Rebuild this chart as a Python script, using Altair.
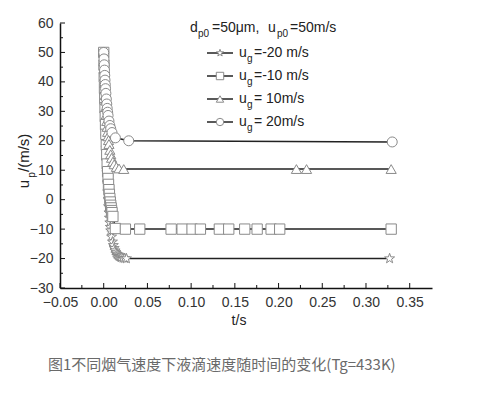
import altair as alt
import pandas as pd

# ---------------- data ----------------
series_names = ["ug=-20", "ug=-10", "ug=10", "ug=20"]

t_m20 = [0, 0.0003, 0.0006, 0.0009, 0.0012, 0.0015, 0.0018, 0.0021, 0.0025, 0.003,
         0.0035, 0.004, 0.0045, 0.005, 0.0055, 0.006, 0.0065, 0.007, 0.0075, 0.008,
         0.009, 0.010, 0.011, 0.012, 0.013, 0.014, 0.015, 0.016, 0.017, 0.018,
         0.019, 0.020, 0.022, 0.024, 0.026, 0.327]
u_m20 = [50, 44.9, 40.3, 35.9, 31.9, 28.1, 24.6, 21.4, 17.5, 13.0,
         9.2, 5.8, 2.7, 0.1, -2.3, -4.4, -6.2, -7.8, -9.3, -10.5,
         -12.6, -14.3, -15.5, -16.5, -17.3, -17.9, -18.4, -18.7, -19.0, -19.2,
         -19.4, -19.6, -19.8, -19.9, -20.0, -20.0]

t_m10 = [0, 0.0003, 0.0006, 0.0009, 0.0012, 0.0015, 0.0018, 0.0021, 0.0025, 0.003,
         0.0035, 0.004, 0.0045, 0.005, 0.0055, 0.006, 0.0065, 0.007, 0.0075, 0.008,
         0.0085, 0.009, 0.0095, 0.0105, 0.0134, 0.0248, 0.0412, 0.0771, 0.0897,
         0.1011, 0.1106, 0.1323, 0.1430, 0.1613, 0.1755, 0.1915, 0.2013, 0.3288]
u_m10 = [50, 45.7, 41.6, 37.8, 34.4, 31.2, 28.2, 25.5, 22.2, 18.5,
         15.3, 12.1, 9.5, 7.2, 5.2, 3.4, 1.8, 0.4, -0.8, -1.9,
         -2.8, -3.7, -4.4, -5.7, -9.8, -10.0, -10.0, -10.0, -10.0,
         -10.0, -10.0, -10.0, -10.0, -10.0, -10.0, -10.0, -10.0, -10.0]

t_p10 = [0, 0.0003, 0.0006, 0.0009, 0.0012, 0.0015, 0.0018, 0.0021, 0.0025, 0.003,
         0.0035, 0.004, 0.0045, 0.005, 0.0055, 0.006, 0.007, 0.008, 0.009, 0.0105,
         0.012, 0.0145, 0.0175, 0.0229, 0.2204, 0.232, 0.3288]
u_p10 = [50, 47.1, 44.4, 41.9, 39.6, 37.5, 35.5, 33.7, 31.5, 28.9,
         26.7, 24.7, 23.0, 21.5, 20.2, 18.9, 16.9, 15.4, 14.2, 12.9,
         12.0, 11.1, 10.6, 10.4, 10.4, 10.4, 10.4]

t_p20 = [0, 0.0003, 0.0006, 0.0009, 0.0012, 0.0015, 0.0018, 0.0021, 0.0025, 0.003,
         0.0035, 0.004, 0.0045, 0.005, 0.006, 0.007, 0.008, 0.0095, 0.0134, 0.0286, 0.33]
u_p20 = [50, 47.8, 45.8, 44.0, 42.2, 40.6, 39.1, 37.7, 36.1, 34.2,
         32.5, 31.0, 29.7, 28.6, 26.7, 25.2, 24.1, 22.8, 21.0, 20.0, 19.6]

legend_values = ["=-20 m/s", "=-10 m/s", "= 10m/s", "= 20m/s"]

x_major = [-0.05, 0.0, 0.05, 0.10, 0.15, 0.20, 0.25, 0.30, 0.35]
x_minor = [-0.025, 0.025, 0.075, 0.125, 0.175, 0.225, 0.275, 0.325]
y_major = [-30, -20, -10, 0, 10, 20, 30, 40, 50, 60]
y_minor = [-25, -15, -5, 5, 15, 25, 35, 45, 55]

caption = "图1不同烟气速度下液滴速度随时间的变化(Tg=433K)"

# ---------------- build tables ----------------
rows = []
for name, ts, us in [(series_names[0], t_m20, u_m20), (series_names[1], t_m10, u_m10),
                     (series_names[2], t_p10, u_p10), (series_names[3], t_p20, u_p20)]:
    for i, (t, u) in enumerate(zip(ts, us)):
        rows.append({"series": name, "t": t, "u": u, "i": i})
df = pd.DataFrame(rows)

STAR = ("M0,-1L0.235,-0.324L0.951,-0.309L0.380,0.124L0.588,0.809L0,0.4"
        "L-0.588,0.809L-0.380,0.124L-0.951,-0.309L-0.235,-0.324Z")
shapes = [STAR, "square", "triangle-up", "circle"]
sizes = [110, 100, 120, 100]

W, H = 372, 265
FONT = "Liberation Sans"
xs = alt.Scale(domain=[-0.05, 0.3755], nice=False, zero=False)
ys = alt.Scale(domain=[-30, 60], nice=False, zero=False)

xaxis = alt.Axis(values=x_major, format=".2f", title=None, grid=False, ticks=False,
                 domainColor="#111111", domainWidth=1.5, labelFont=FONT, labelFontSize=14,
                 labelColor="#333333", labelPadding=7, labelFlush=False)
yaxis = alt.Axis(values=y_major, title=None, grid=False, ticks=False,
                 domainColor="#111111", domainWidth=1.5, labelFont=FONT, labelFontSize=14,
                 labelColor="#333333", labelPadding=7, labelFlush=False)

base = alt.Chart(df)

lines = base.mark_line(color="#222222", strokeWidth=1.5).encode(
    x=alt.X("t:Q", scale=xs, axis=xaxis),
    y=alt.Y("u:Q", scale=ys, axis=yaxis),
    detail="series:N",
    order="i:Q",
)

points = base.mark_point(filled=False, fill="white", fillOpacity=1,
                         stroke="#8a8a8a", strokeWidth=1).encode(
    x=alt.X("t:Q", scale=xs, axis=xaxis),
    y=alt.Y("u:Q", scale=ys, axis=yaxis),
    shape=alt.Shape("series:N", scale=alt.Scale(domain=series_names, range=shapes), legend=None),
    size=alt.Size("series:N", scale=alt.Scale(domain=series_names, range=sizes), legend=None),
)

# inward ticks
def xticks(vals, length):
    return alt.Chart(pd.DataFrame({"t": vals})).mark_rule(color="#111111", strokeWidth=1).encode(
        x=alt.X("t:Q", scale=xs, axis=xaxis), y=alt.value(H), y2=alt.value(H - length))

def yticks(vals, length):
    return alt.Chart(pd.DataFrame({"u": vals})).mark_rule(color="#111111", strokeWidth=1).encode(
        y=alt.Y("u:Q", scale=ys, axis=yaxis), x=alt.value(0), x2=alt.value(length))

ticks = [xticks(x_major, 5), xticks(x_minor, 3), yticks(y_major, 5), yticks(y_minor, 3)]

one = pd.DataFrame({"a": [0]})

def txt(s, x, y, size=14, color="#222222", align="left", angle=0, font=FONT):
    kw = dict(align=align, baseline="middle", fontSize=size, color=color, font=font, text=s)
    if angle:
        kw["angle"] = angle
    return alt.Chart(one).mark_text(**kw).encode(x=alt.value(x), y=alt.value(y))

OX, OY = 60, 23  # plot origin in page pixels
texts = []
# legend title
texts += [
    txt("d", 190 - OX, 28 - OY),
    txt("p0", 198 - OX, 34 - OY, size=10),
    txt("=50μm,", 212 - OX, 28 - OY),
    txt("u", 268 - OX, 28 - OY),
    txt("p0", 277 - OX, 34 - OY, size=10),
    txt("=50m/s", 290 - OX, 28 - OY),
]
# legend rows
row_y = [53, 76, 99, 122]
leg = []
for k in range(4):
    yy = row_y[k] - OY
    leg.append(alt.Chart(one).mark_rule(color="#222222", strokeWidth=1.5).encode(
        x=alt.value(207 - OX), x2=alt.value(233 - OX), y=alt.value(yy)))
    leg.append(alt.Chart(one).mark_point(shape=shapes[k], size=55, filled=False, fill="white",
                                         fillOpacity=1, stroke="#8a8a8a", strokeWidth=1).encode(
        x=alt.value(220 - OX), y=alt.value(yy)))
    leg.append(txt("u", 239 - OX, yy))
    leg.append(txt("g", 247 - OX, yy + 6, size=10))
    leg.append(txt(legend_values[k], 254 - OX, yy))

# axis titles
texts += [
    txt("t/s", 239 - OX, 321 - OY, align="center"),
    txt("u", 24 - OX, 184 - OY, align="center", angle=270, size=15),
    txt("p", 32 - OX, 175 - OY, align="center", angle=270, size=10),
    txt("/(m/s)", 24 - OX, 172 - OY, align="left", angle=270, size=15),
]
# caption
texts.append(txt(caption, 48 - OX, 365 - OY, size=15, color="#6a6a6a",
                 font="Noto Sans CJK SC"))

chart = alt.layer(lines, *ticks, points, *leg, *texts).properties(
    width=W, height=H,
    autosize=alt.AutoSizeParams(type="none"),
    padding={"left": OX - 8, "top": OY - 8, "right": 482 - 16 - (OX - 8) - W, "bottom": 100},
    background="white",
).configure_view(stroke=None)

chart.save("out.html", embed_options={"renderer": "svg", "actions": False})
